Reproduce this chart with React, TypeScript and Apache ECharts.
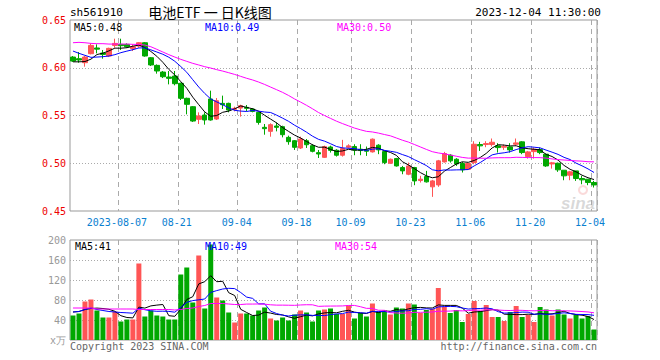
import React, { useEffect, useRef } from 'react';
import * as echarts from 'echarts';

const dates = [
  '2023-07-26','2023-07-27','2023-07-28','2023-07-31','2023-08-01','2023-08-02','2023-08-03','2023-08-04',
  '2023-08-07','2023-08-08','2023-08-09','2023-08-10','2023-08-11',
  '2023-08-14','2023-08-15','2023-08-16','2023-08-17','2023-08-18',
  '2023-08-21','2023-08-22','2023-08-23','2023-08-24','2023-08-25',
  '2023-08-28','2023-08-29','2023-08-30','2023-08-31','2023-09-01',
  '2023-09-04','2023-09-05','2023-09-06','2023-09-07','2023-09-08',
  '2023-09-11','2023-09-12','2023-09-13','2023-09-14','2023-09-15',
  '2023-09-18','2023-09-19','2023-09-20','2023-09-21','2023-09-22',
  '2023-09-25','2023-09-26','2023-09-27','2023-09-28',
  '2023-10-09','2023-10-10','2023-10-11','2023-10-12','2023-10-13',
  '2023-10-16','2023-10-17','2023-10-18','2023-10-19','2023-10-20',
  '2023-10-23','2023-10-24','2023-10-25','2023-10-26','2023-10-27',
  '2023-10-30','2023-10-31','2023-11-01','2023-11-02','2023-11-03',
  '2023-11-06','2023-11-07','2023-11-08','2023-11-09','2023-11-10',
  '2023-11-13','2023-11-14','2023-11-15','2023-11-16','2023-11-17',
  '2023-11-20','2023-11-21','2023-11-22','2023-11-23','2023-11-24',
  '2023-11-27','2023-11-28','2023-11-29','2023-11-30','2023-12-01',
  '2023-12-04',
];

const tickDates = ['2023-08-07','2023-08-21','2023-09-04','2023-09-18','2023-10-09','2023-10-23','2023-11-06','2023-11-20','2023-12-04'];

const openP = [
  0.6112,0.6095,0.6053,0.6147,0.6207,0.6154,0.6123,0.6234,0.6245,0.6245,
  0.6200,0.6227,0.6262,0.6105,0.6025,0.5955,0.5903,0.5913,0.5837,0.5680,
  0.5592,0.5460,0.5505,0.5673,0.5463,0.5627,0.5627,0.5564,0.5578,0.5585,
  0.5568,0.5533,0.5376,0.5334,0.5390,0.5383,0.5271,0.5236,0.5160,0.5236,
  0.5184,0.5111,0.5062,0.5170,0.5136,0.5084,0.5168,0.5175,0.5147,0.5140,
  0.5119,0.5189,0.5122,0.5000,0.5049,0.4955,0.4885,0.4955,0.4819,0.4861,
  0.4753,0.4773,0.5014,0.5084,0.5042,0.4997,0.4937,0.5007,0.5196,0.5196,
  0.5196,0.5182,0.5168,0.5171,0.5199,0.5224,0.5070,0.5122,0.5143,0.5095,
  0.4993,0.5000,0.4927,0.4875,0.4920,0.4840,0.4833,0.4798,
];
const closeP = [
  0.6070,0.6081,0.6112,0.6234,0.6195,0.6140,0.6203,0.6255,0.6231,0.6220,
  0.6220,0.6262,0.6123,0.6029,0.5966,0.5906,0.5889,0.5833,0.5680,0.5617,
  0.5442,0.5495,0.5453,0.5453,0.5655,0.5613,0.5557,0.5575,0.5603,0.5575,
  0.5543,0.5428,0.5362,0.5404,0.5376,0.5299,0.5226,0.5167,0.5254,0.5194,
  0.5125,0.5097,0.5174,0.5135,0.5084,0.5154,0.5182,0.5136,0.5133,0.5126,
  0.5252,0.5140,0.5007,0.5042,0.4972,0.4920,0.4972,0.4815,0.4833,0.4805,
  0.4815,0.5025,0.5102,0.5025,0.4993,0.4931,0.4997,0.5199,0.5182,0.5206,
  0.5220,0.5164,0.5178,0.5140,0.5213,0.5112,0.5119,0.5147,0.5112,0.4972,
  0.5004,0.4931,0.4868,0.4910,0.4840,0.4826,0.4798,0.4773,
];
const lowP = [
  0.6060,0.6053,0.6011,0.6140,0.6151,0.6095,0.6112,0.6210,0.6186,0.6210,
  0.6175,0.6210,0.6116,0.6018,0.5938,0.5892,0.5826,0.5816,0.5662,0.5512,
  0.5432,0.5411,0.5404,0.5446,0.5453,0.5568,0.5533,0.5543,0.5488,0.5543,
  0.5533,0.5404,0.5299,0.5278,0.5334,0.5271,0.5194,0.5139,0.5149,0.5160,
  0.5114,0.5055,0.5055,0.5112,0.5070,0.5070,0.5154,0.5084,0.5084,0.5077,
  0.5112,0.5095,0.4990,0.4993,0.4965,0.4885,0.4875,0.4770,0.4798,0.4798,
  0.4648,0.4753,0.5007,0.5007,0.4972,0.4903,0.4931,0.4990,0.5129,0.5168,
  0.5175,0.5112,0.5140,0.5112,0.5182,0.5095,0.5049,0.5049,0.5095,0.4962,
  0.4944,0.4910,0.4822,0.4822,0.4815,0.4780,0.4770,0.4746,
];
const highP = [
  0.6123,0.6165,0.6123,0.6255,0.6245,0.6186,0.6210,0.6304,0.6304,0.6255,
  0.6245,0.6269,0.6269,0.6112,0.6035,0.5966,0.5966,0.5966,0.5844,0.5687,
  0.5599,0.5533,0.5533,0.5760,0.5683,0.5708,0.5634,0.5592,0.5613,0.5610,
  0.5578,0.5540,0.5411,0.5418,0.5428,0.5393,0.5289,0.5243,0.5278,0.5254,
  0.5201,0.5139,0.5184,0.5184,0.5147,0.5245,0.5199,0.5199,0.5199,0.5175,
  0.5259,0.5199,0.5129,0.5049,0.5056,0.4972,0.5007,0.4962,0.4868,0.4920,
  0.4826,0.5035,0.5119,0.5095,0.5053,0.5014,0.5007,0.5231,0.5224,0.5231,
  0.5259,0.5210,0.5196,0.5210,0.5259,0.5231,0.5129,0.5164,0.5164,0.5102,
  0.5014,0.5007,0.4927,0.4920,0.4920,0.4868,0.4833,0.4815,
];

// volume in 万 (x10,000)
const volume = [
  49,53,77,81,59,45,45,57,37,41,
  41,153,47,59,49,47,41,41,131,145,
  75,169,63,191,85,79,55,35,53,53,
  49,59,65,43,39,45,39,51,59,55,
  37,59,61,63,52,52,69,43,54,47,
  73,57,59,51,65,63,73,71,54,60,
  62,104,66,54,60,36,52,78,58,70,
  46,46,38,56,68,46,50,36,66,61,
  49,61,51,43,50,43,48,21,
];

// moving-average values before a full window exists
const priceMa5Head = [0.6062,0.6062,0.6065,0.6090];
const priceMa10Head = [0.6175,0.6151,0.6130,0.6109,0.6112,0.6116,0.6123,0.6137,0.6158];
const priceMa30Head = [
  0.6262,0.6266,0.6262,0.6255,0.6252,0.6252,0.6248,0.6248,0.6248,0.6248,
  0.6245,0.6245,0.6238,0.6220,0.6193,0.6165,0.6137,0.6112,0.6088,0.6067,
  0.6046,0.6029,0.6011,0.5997,0.5980,0.5965,0.5948,0.5930,0.5910,
];
const volMa5Head = [56,57,61,63];
const volMa10Head = [56,57,61,64,61,59,57,56,55];
const volMa30Head = [
  64,64,64,64,62,62,62,62,62,62,
  62,61,61,61,61,61,61,60,61,63,
  64,67,69,73,73,73,72,71,71,
];

const priceTicks = { min: 0.45, max: 0.65, interval: 0.05 };
const volTicks = { min: 0, max: 200, interval: 40 };

function movingAvg(values: number[], n: number, head: number[]): number[] {
  const out: number[] = [];
  for (let i = 0; i < values.length; i++) {
    if (i < n - 1) { out.push(head[i]); continue; }
    let s = 0;
    for (let k = i - n + 1; k <= i; k++) s += values[k];
    out.push(s / n);
  }
  return out;
}

const UP = '#ff5555';
const DOWN = '#00a800';
const MONO = '"DejaVu Sans Mono", monospace';

export default function App() {
  const ref = useRef<HTMLDivElement>(null);
  useEffect(() => {
    if (!ref.current) return;
    const chart = echarts.init(ref.current, undefined, { renderer: 'svg' });

    const pMa5 = movingAvg(closeP, 5, priceMa5Head);
    const pMa10 = movingAvg(closeP, 10, priceMa10Head);
    const pMa30 = movingAvg(closeP, 30, priceMa30Head);
    const vMa5 = movingAvg(volume, 5, volMa5Head);
    const vMa10 = movingAvg(volume, 10, volMa10Head);
    const vMa30 = movingAvg(volume, 30, volMa30Head);
    const last = dates.length - 1;

    const tickSet = new Set(tickDates);
    const isTick = (i: number) => tickSet.has(dates[i]);

    const candles = dates.map((_, i) => [openP[i], closeP[i], lowP[i], highP[i]]);
    const volBars = volume.map((v, i) => ({
      value: v,
      itemStyle: { color: closeP[i] >= openP[i] ? UP : DOWN },
    }));

    const txt = (text: string, x: number, y: number, fill: string, opts: any = {}) => ({
      type: 'text',
      x, y,
      silent: true,
      z: 100,
      style: {
        text, fill,
        font: opts.font || `10px ${MONO}`,
        textAlign: opts.align || 'left',
        align: opts.align || 'left',
        textVerticalAlign: 'middle',
        verticalAlign: 'middle',
      },
    });

    const splitX = {
      show: true,
      interval: (i: number) => isTick(i),
      lineStyle: { color: '#aaaaaa', type: [5, 4], width: 1 },
    };

    const option: any = {
      animation: false,
      backgroundColor: '#ffffff',
      grid: [
        { left: 70, top: 20, width: 527, height: 191, show: true, borderColor: '#999999', borderWidth: 1, backgroundColor: 'transparent', containLabel: false, outerBoundsMode: 'none' },
        { left: 70, top: 240, width: 527, height: 100, show: true, borderColor: '#999999', borderWidth: 1, backgroundColor: 'transparent', containLabel: false, outerBoundsMode: 'none' },
      ],
      xAxis: [
        {
          type: 'category', gridIndex: 0, data: dates, boundaryGap: true,
          axisLine: { show: false }, axisTick: { show: false },
          axisLabel: {
            interval: (i: number) => isTick(i),
            formatter: (v: string) => (v === tickDates[0] ? v : v.slice(5)),
            color: '#0a80d0', fontFamily: MONO, fontSize: 10, margin: 6,
            padding: [0, 8, 0, 0], hideOverlap: false,
          },
          splitLine: splitX,
        },
        {
          type: 'category', gridIndex: 1, data: dates, boundaryGap: true,
          axisLine: { show: false }, axisTick: { show: false }, axisLabel: { show: false },
          splitLine: splitX,
        },
      ],
      yAxis: [
        {
          type: 'value', gridIndex: 0, min: priceTicks.min, max: priceTicks.max, interval: priceTicks.interval,
          axisLine: { show: false }, axisTick: { show: false },
          axisLabel: { color: '#ee0000', fontFamily: MONO, fontSize: 10, margin: 4, formatter: (v: number) => v.toFixed(2) },
          splitLine: { show: true, showMinLine: false, showMaxLine: false, lineStyle: { color: '#aaaaaa', type: [1, 2], width: 1 } },
        },
        {
          type: 'value', gridIndex: 1, min: volTicks.min, max: volTicks.max, interval: volTicks.interval,
          axisLine: { show: false }, axisTick: { show: false },
          axisLabel: {
            color: '#999999', fontFamily: MONO, fontSize: 10, margin: 4,
            formatter: (v: number) => (v === 0 ? 'x万' : String(v)),
          },
          splitLine: { show: true, showMinLine: false, showMaxLine: false, lineStyle: { color: '#aaaaaa', type: [1, 2], width: 1 } },
        },
      ],
      series: [
        {
          type: 'candlestick', xAxisIndex: 0, yAxisIndex: 0, data: candles, barWidth: 5,
          itemStyle: { color: UP, color0: DOWN, borderColor: UP, borderColor0: DOWN, borderWidth: 1 },
        },
        { type: 'line', xAxisIndex: 0, yAxisIndex: 0, data: pMa5, showSymbol: false, symbol: 'none', lineStyle: { color: '#000000', width: 1 }, z: 5 },
        { type: 'line', xAxisIndex: 0, yAxisIndex: 0, data: pMa10, showSymbol: false, symbol: 'none', lineStyle: { color: '#0000ff', width: 1 }, z: 5 },
        { type: 'line', xAxisIndex: 0, yAxisIndex: 0, data: pMa30, showSymbol: false, symbol: 'none', lineStyle: { color: '#ff00ff', width: 1 }, z: 5 },
        { type: 'bar', xAxisIndex: 1, yAxisIndex: 1, data: volBars, barWidth: 5 },
        { type: 'line', xAxisIndex: 1, yAxisIndex: 1, data: vMa5, showSymbol: false, symbol: 'none', lineStyle: { color: '#000000', width: 1 }, z: 5 },
        { type: 'line', xAxisIndex: 1, yAxisIndex: 1, data: vMa10, showSymbol: false, symbol: 'none', lineStyle: { color: '#0000ff', width: 1 }, z: 5 },
        { type: 'line', xAxisIndex: 1, yAxisIndex: 1, data: vMa30, showSymbol: false, symbol: 'none', lineStyle: { color: '#ff00ff', width: 1 }, z: 5 },
      ],
      graphic: [
        txt('sh561910', 70, 12, '#000000', { font: `11px ${MONO}` }),
        txt('电池ETF 一 日K线图', 210, 12, '#000000', { font: '14px "Noto Sans CJK SC"', align: 'center' }),
        txt('2023-12-04 11:30:00', 601, 12, '#000000', { font: `11px ${MONO}`, align: 'right' }),
        txt('MA5:' + pMa5[last].toFixed(2), 74, 27, '#000000'),
        txt('MA10:' + pMa10[last].toFixed(2), 205, 27, '#0000ff'),
        txt('MA30:' + pMa30[last].toFixed(2), 337, 27, '#ff00ff'),
        txt('MA5:' + Math.round(vMa5[last]), 75, 246, '#000000'),
        txt('MA10:' + Math.round(vMa10[last]), 205, 246, '#0000ff'),
        txt('MA30:' + Math.round(vMa30[last]), 335, 246, '#ff00ff'),
        txt('Copyright 2023 SINA.COM', 70, 346, '#666666'),
        txt('http://finance.sina.com.cn', 597, 346, '#666666', { align: 'right' }),
        {
          type: 'ring', silent: true, z: 1,
          shape: { cx: 583, cy: 190, r: 5, r0: 3 },
          style: { fill: 'rgba(240,150,150,0.35)' },
        },
        {
          type: 'text', silent: true, z: 1, x: 595, y: 203,
          style: {
            text: 'sina', fill: 'rgba(170,170,170,0.45)',
            font: 'italic bold 17px "Liberation Sans", sans-serif',
            textAlign: 'right', align: 'right', textVerticalAlign: 'middle', verticalAlign: 'middle',
          },
        },
      ],
    };

    chart.setOption(option);
    return () => chart.dispose();
  }, []);

  return <div ref={ref} style={{ position: 'fixed', left: 0, top: 0, width: 660, height: 360 }} />;
}
